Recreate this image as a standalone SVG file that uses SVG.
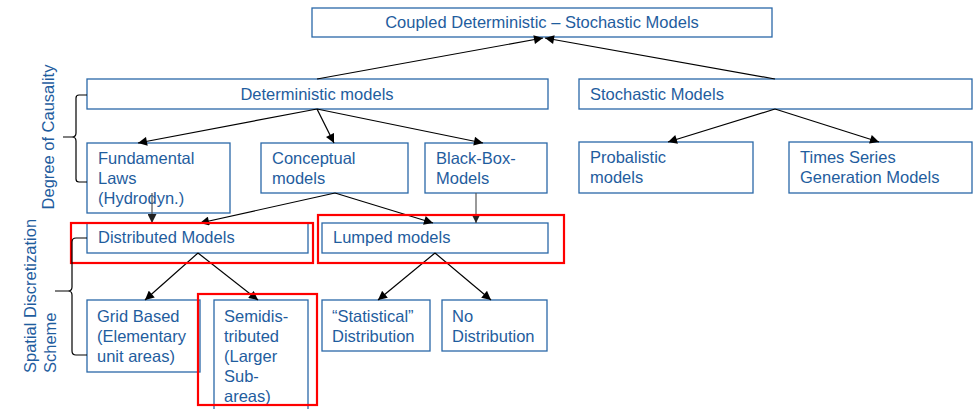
<svg xmlns="http://www.w3.org/2000/svg" width="977" height="409" viewBox="0 0 977 409">
  <style>
    .box { fill: #ffffff; stroke: #2a68a8; stroke-width: 1.3; }
    .hl { fill: none; stroke: #ff0000; stroke-width: 2.2; }
    .t { font-family: "Liberation Sans", Arial, sans-serif; font-size: 16.5px; fill: #1f5d9e; }
    .c { text-anchor: middle; }
    .edge { stroke: #000000; stroke-width: 1.2; fill: none; marker-end: url(#arrow); }
    .edge.grey { stroke: #555555; marker-end: url(#arrowGrey); }
    .brace { stroke: #000000; stroke-width: 1.2; fill: none; }
  </style>
  <defs>
    <marker id="arrow" viewBox="0 0 10 10" refX="10" refY="5" markerWidth="10" markerHeight="9" markerUnits="userSpaceOnUse" orient="auto">
      <path d="M0,0 L10,5 L0,10 z" fill="#000000"/>
    </marker>
    <marker id="arrowGrey" viewBox="0 0 10 10" refX="10" refY="5" markerWidth="10" markerHeight="9" markerUnits="userSpaceOnUse" orient="auto">
      <path d="M0,0 L10,5 L0,10 z" fill="#222222"/>
    </marker>
  </defs>

  <!-- Top level -->
  <g id="coupled">
    <rect class="box" x="312" y="8" width="460" height="29"/>
    <text class="t c" x="542" y="28">Coupled Deterministic – Stochastic Models</text>
  </g>

  <!-- Second level -->
  <g id="deterministic">
    <rect class="box" x="87" y="79" width="461" height="30"/>
    <text class="t c" x="317" y="100">Deterministic models</text>
  </g>
  <g id="stochastic">
    <rect class="box" x="579" y="79" width="393" height="30"/>
    <text class="t" x="590" y="100">Stochastic Models</text>
  </g>

  <!-- Third level -->
  <g id="fundamental">
    <rect class="box" x="87" y="143" width="143" height="70"/>
    <text class="t" x="98" y="164">Fundamental</text>
    <text class="t" x="98" y="184">Laws</text>
    <text class="t" x="98" y="204">(Hydrodyn.)</text>
  </g>
  <g id="conceptual">
    <rect class="box" x="261" y="143" width="147" height="50"/>
    <text class="t" x="272" y="164">Conceptual</text>
    <text class="t" x="272" y="184">models</text>
  </g>
  <g id="blackbox">
    <rect class="box" x="425" y="143" width="122" height="50"/>
    <text class="t" x="436" y="164">Black-Box-</text>
    <text class="t" x="436" y="184">Models</text>
  </g>
  <g id="probalistic">
    <rect class="box" x="579" y="142" width="174" height="51"/>
    <text class="t" x="590" y="163">Probalistic</text>
    <text class="t" x="590" y="183">models</text>
  </g>
  <g id="timeseries">
    <rect class="box" x="789" y="142" width="183" height="51"/>
    <text class="t" x="800" y="163">Times Series</text>
    <text class="t" x="800" y="183">Generation Models</text>
  </g>

  <!-- Spatial discretization level -->
  <g id="distributed">
    <rect class="box" x="87" y="223" width="221" height="30"/>
    <text class="t" x="98" y="243">Distributed Models</text>
  </g>
  <g id="lumped">
    <rect class="box" x="322" y="223" width="226" height="30"/>
    <text class="t" x="333" y="243">Lumped models</text>
  </g>

  <!-- Bottom level -->
  <g id="grid">
    <rect class="box" x="87" y="300" width="113" height="72"/>
    <text class="t" x="97" y="322">Grid Based</text>
    <text class="t" x="97" y="342">(Elementary</text>
    <text class="t" x="97" y="362">unit areas)</text>
  </g>
  <g id="semidistributed">
    <rect class="box" x="214" y="300" width="94" height="120"/>
    <text class="t" x="224" y="322">Semidis-</text>
    <text class="t" x="224" y="342">tributed</text>
    <text class="t" x="224" y="362">(Larger</text>
    <text class="t" x="224" y="382">Sub-</text>
    <text class="t" x="224" y="402">areas)</text>
  </g>
  <g id="statistical">
    <rect class="box" x="322" y="300" width="108" height="51"/>
    <text class="t" x="332" y="322">“Statistical”</text>
    <text class="t" x="332" y="342">Distribution</text>
  </g>
  <g id="nodistribution">
    <rect class="box" x="442" y="300" width="105" height="51"/>
    <text class="t" x="452" y="322">No</text>
    <text class="t" x="452" y="342">Distribution</text>
  </g>

  <!-- Connectors -->
  <g id="connectors">
    <line class="edge" x1="317" y1="79" x2="543" y2="38"/>
    <line class="edge" x1="775" y1="79" x2="545" y2="38"/>
    <line class="edge" x1="317" y1="109" x2="138" y2="143"/>
    <line class="edge" x1="317" y1="109" x2="334" y2="143"/>
    <line class="edge" x1="317" y1="109" x2="483" y2="143"/>
    <line class="edge" x1="775" y1="109" x2="668" y2="142"/>
    <line class="edge" x1="775" y1="109" x2="879" y2="142"/>
    <line class="edge" x1="335" y1="193" x2="200" y2="223"/>
    <line class="edge" x1="335" y1="193" x2="433" y2="223"/>
    <line class="edge grey" x1="152" y1="193" x2="152" y2="223"/>
    <line class="edge grey" x1="476" y1="193" x2="476" y2="223"/>
    <line class="edge" x1="198" y1="253" x2="145" y2="300"/>
    <line class="edge" x1="198" y1="253" x2="258" y2="300"/>
    <line class="edge" x1="435" y1="253" x2="378" y2="300"/>
    <line class="edge" x1="435" y1="253" x2="491" y2="300"/>
  </g>

  <!-- Highlight frames -->
  <g id="highlights">
    <rect class="hl" x="71" y="223" width="242" height="40"/>
    <rect class="hl" x="318" y="215" width="246" height="48"/>
    <rect class="hl" x="198" y="294" width="119" height="111"/>
  </g>

  <!-- Axis braces and labels -->
  <g id="causality">
    <path class="brace" d="M87,95 L79,95 Q76,95 76,98 L76,133 Q76,137 72,137 L63,137 M72,137 Q76,137 76,141 L76,179 Q76,182 79,182 L87,182"/>
    <text class="t c" transform="translate(54,137) rotate(-90)">Degree of Causality</text>
  </g>
  <g id="spatial">
    <path class="brace" d="M87,238 L76,238 Q72,238 72,242 L72,287 Q72,291 68,291 L55,291 M68,291 Q72,291 72,295 L72,351 Q72,355 76,355 L87,355"/>
    <text class="t" transform="translate(36,373) rotate(-90)">Spatial Discretization</text>
    <text class="t" transform="translate(56,373) rotate(-90)">Scheme</text>
  </g>
</svg>
